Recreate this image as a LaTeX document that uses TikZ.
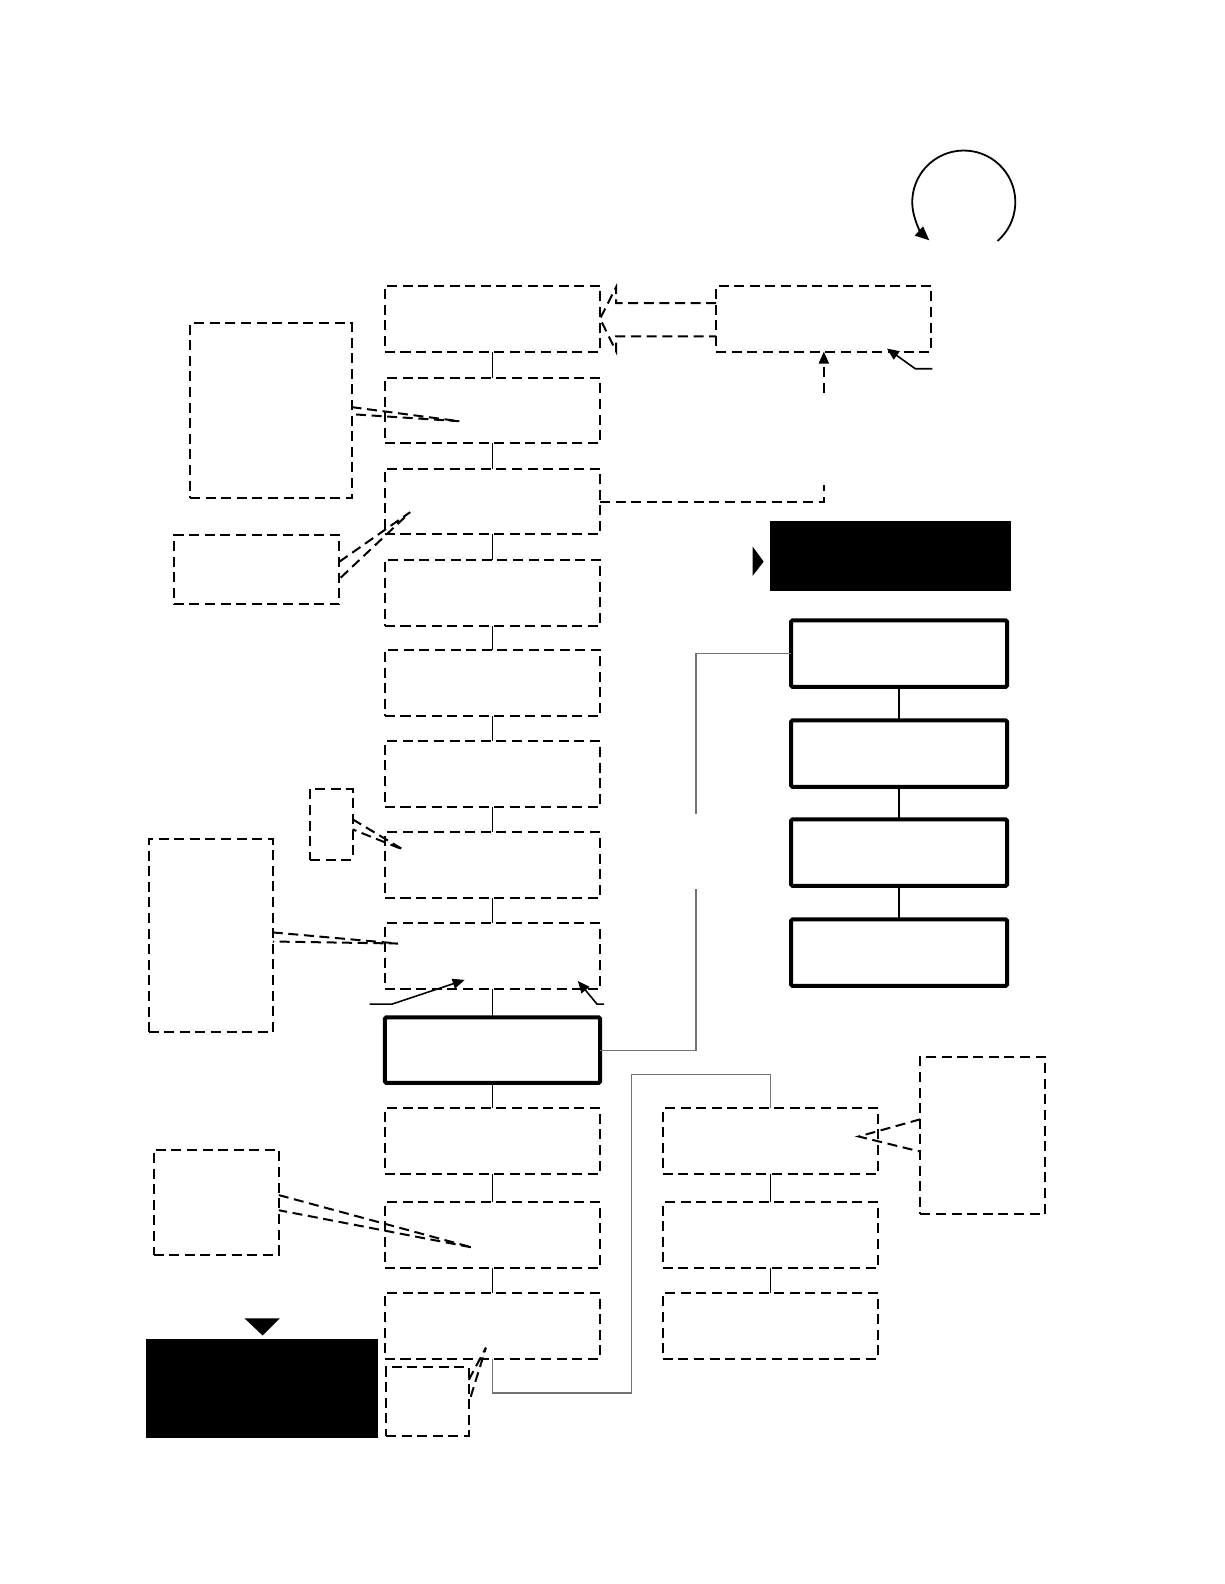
\documentclass[tikz,border=0pt]{standalone}
\usetikzlibrary{arrows.meta}
\def\pu{0.50495pt}
\tikzset{
  x=0.50495pt, y=-0.50495pt,
  dbox/.style={draw, line width=1pt, dash pattern=on 5pt off 2.8pt, inner sep=0pt, outer sep=0pt},
  sbox/.style={draw, line width=2pt, rounded corners=0.8pt, inner sep=0pt, outer sep=0pt},
  thickbox/.style={draw, line width=2pt, rounded corners=0.8pt, inner sep=0pt, outer sep=0pt},
  blk/.style={fill=black, draw=none, inner sep=0pt, outer sep=0pt},
  dline/.style={line width=1pt, dash pattern=on 5pt off 2.8pt},
  conn/.style={line width=0.75pt},
  gline/.style={line width=0.6pt, draw=black!55},
  arr/.style={line width=0.8pt, -{Triangle[length=6pt,width=5pt]}},
}
\newcommand\mybox[6]{\node[#2, minimum width={(#5-#3)*\pu}, minimum height={(#6-#4)*\pu}] (#1) at ({(#3+#5)/2},{(#4+#6)/2}) {};}
\begin{document}
\begin{tikzpicture}
\useasboundingbox (0,0) rectangle (1212,1568);

% circular arrow
\coordinate (cc) at (954,200);
\draw[line width=0.9pt, -{Triangle[length=7pt,width=6pt]}] (987.5,238.5) arc[start angle=-49, end angle=228, radius=25.75pt];

% main column
\mybox{m1}{dbox}{381}{283}{594}{348}
\mybox{m2}{dbox}{381}{374}{594}{439}
\mybox{m3}{dbox}{381}{464}{594}{529}
\mybox{m4}{dbox}{381}{554}{594}{620}
\mybox{m5}{dbox}{381}{643}{594}{709}
\mybox{m6}{dbox}{381}{734}{594}{799}
\mybox{m7}{dbox}{381}{824}{594}{889}
\mybox{m8}{dbox}{381}{914}{594}{979}
\mybox{m9}{thickbox}{381}{1007}{594}{1072}
\mybox{m10}{dbox}{381}{1097}{594}{1162}
\mybox{m11}{dbox}{381}{1190}{594}{1255}
\mybox{m12}{dbox}{381}{1280}{594}{1345}
\foreach \a/\b in {m1/m2,m2/m3,m3/m4,m4/m5,m5/m6,m6/m7,m7/m8,m8/m9,m9/m10,m10/m11,m11/m12}
  \draw[conn] (\a.south) -- (\b.north);

% top right box
\mybox{R}{dbox}{709}{283}{922}{348}
% hollow block arrow R -> m1
\draw[dline] (R.west |- 0,300) -- (610,300) -- (610,284) -- (m1.east) -- (610,348) -- (610,333) -- (R.west |- 0,333);
% dashed feedback m3 -> R
\draw[dline] (m3.east) -- (m3.east -| R.south) -- ++(0,-16);
\coordinate (k1) at (815.5,389);
\draw[dline, -{Triangle[length=6pt,width=5pt]}] (k1) -- (R.south);
% small solid arrow into R
\coordinate (a1) at (923,365);
\coordinate (a1t) at (878,345);
\draw[arr] (a1) -- (906,365) -- (a1t);

% left callout boxes
\mybox{L1}{dbox}{188}{320}{348}{493}
\coordinate (t1) at (455,417);
\draw[dline] (L1.east |- 0,403) -- (t1) -- (L1.east |- 0,410);
\mybox{L2}{dbox}{172}{530}{336}{598}
\coordinate (t2) at (406,507);
\draw[dline] (L2.east |- 0,556) -- (t2) -- (L2.east |- 0,573);
\mybox{L3}{dbox}{307}{781}{349}{851}
\coordinate (t3) at (399,841);
\draw[dline] (L3.east |- 0,811) -- (t3) -- (L3.east |- 0,821);
\mybox{L4}{dbox}{147}{831}{270}{1022}
\coordinate (t4) at (394,934);
\draw[dline] (L4.east |- 0,923) -- (t4) -- (L4.east |- 0,932);
\mybox{L5}{dbox}{152}{1138}{276}{1242}
\coordinate (t5) at (468,1235);
\draw[dline] (L5.east |- 0,1183) -- (t5) -- (L5.east |- 0,1198);
\mybox{S}{dbox}{382}{1353}{464}{1421}
\coordinate (t6) at (481,1334);
\draw[dline] (S.east |- 0,1366) -- (t6) -- (S.east |- 0,1389);

% arrows under m8
\coordinate (b1) at (366,994);
\coordinate (b1t) at (460,970);
\draw[arr] (b1) -- (388,994) -- (b1t);
\coordinate (b2) at (598,994);
\coordinate (b2t) at (572,971);
\draw[arr] (b2) -- (591,994) -- (b2t);

% black boxes
\mybox{K1}{blk}{762}{516}{1001}{585}
\fill (745,541) -- (756,556) -- (745,570) -- cycle;
\mybox{K2}{blk}{145}{1325}{374}{1423}
\fill (242,1305) -- (277,1305) -- (260,1322) -- cycle;

% right solid column
\mybox{r1}{sbox}{783}{614}{997}{680}
\mybox{r2}{sbox}{783}{713}{997}{779}
\mybox{r3}{sbox}{783}{811}{997}{877}
\mybox{r4}{sbox}{783}{910}{997}{976}
\foreach \a/\b in {r1/r2,r2/r3,r3/r4}
  \draw[conn] (\a.south) -- (\b.north);

% lower right dashed column
\mybox{c1}{dbox}{656}{1097}{869}{1162}
\mybox{c2}{dbox}{656}{1190}{869}{1255}
\mybox{c3}{dbox}{656}{1280}{869}{1345}
\foreach \a/\b in {c1/c2,c2/c3}
  \draw[conn] (\a.south) -- (\b.north);

% callout box at right
\mybox{C}{dbox}{911}{1046}{1034}{1202}
\coordinate (t7) at (850,1125);
\draw[dline] (C.west |- 0,1108) -- (t7) -- (C.west |- 0,1140);

% gray connectors
\draw[gline] (m9.east) -- (689,1039.5) -- (689,880);
\draw[gline] (689,806) -- (689,647) -- (r1.west);
\draw[gline] (m12.south) -- (487.5,1379) -- (625,1379) -- (625,1064) -- (c1.north |- 0,1064) -- (c1.north);
\end{tikzpicture}
\end{document}
